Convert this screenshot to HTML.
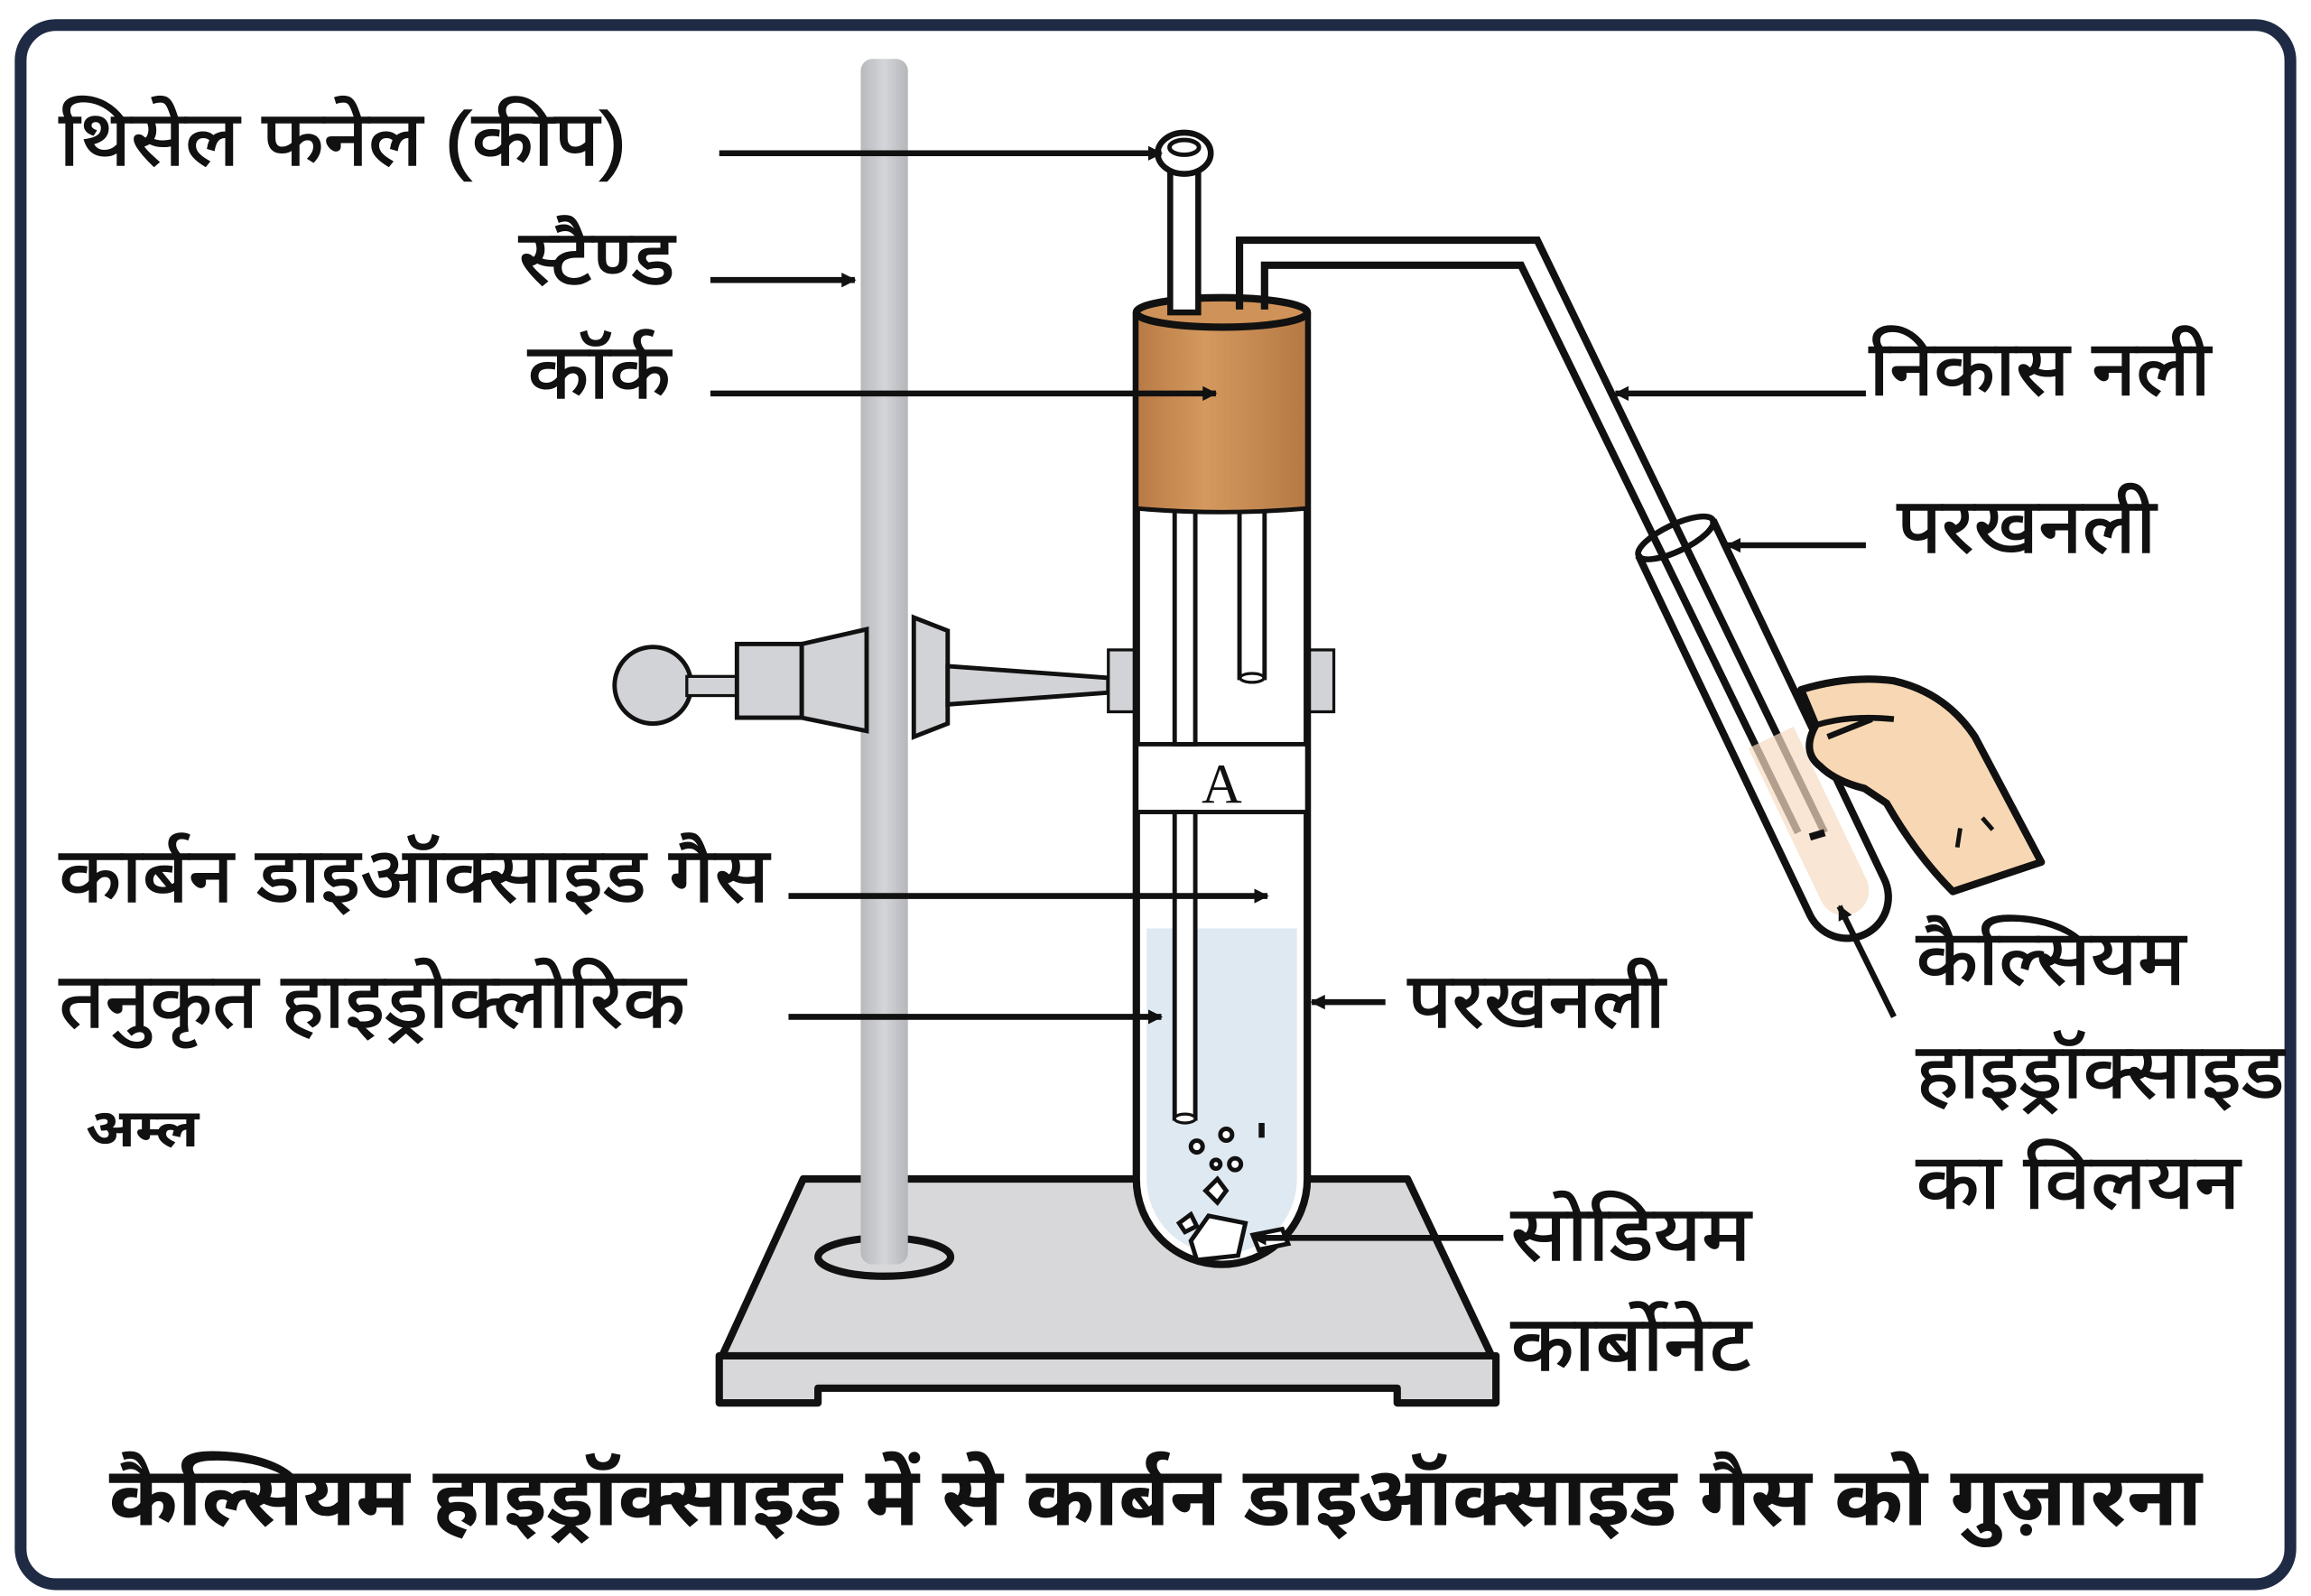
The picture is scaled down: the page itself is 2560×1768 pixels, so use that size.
<!DOCTYPE html>
<html><head><meta charset="utf-8"><style>
html,body{margin:0;padding:0;background:#fff;}
svg{display:block;}
text{font-family:"Liberation Sans","Noto Sans Devanagari","Lohit Devanagari","Mukta",sans-serif;fill:#111;}
.l{stroke:#111;stroke-width:0.9;}
</style></head><body>
<svg width="2560" height="1768" viewBox="0 0 1568 1083" preserveAspectRatio="none" xmlns="http://www.w3.org/2000/svg">
<defs>
<linearGradient id="rod" x1="0" x2="1"><stop offset="0" stop-color="#b8b9bd"/><stop offset="0.5" stop-color="#d4d5d8"/><stop offset="1" stop-color="#b5b6ba"/></linearGradient>
<linearGradient id="cork" x1="0" x2="1"><stop offset="0" stop-color="#b87a45"/><stop offset="0.4" stop-color="#d4995e"/><stop offset="1" stop-color="#b47843"/></linearGradient>
<marker id="ah" markerWidth="10" markerHeight="10" refX="9" refY="5" orient="auto" markerUnits="userSpaceOnUse"><path d="M0,0 L10,5 L0,10 Z" fill="#111"/></marker>
</defs>
<rect x="0" y="0" width="1568" height="1083" fill="#fff"/>
<rect x="14" y="17" width="1540" height="1058" rx="24" fill="#fff" stroke="#1f2a44" stroke-width="8"/>

<path d="M488,920 L488,952 L555,952 L555,942 L948,942 L948,952 L1015,952 L1015,920 Z" fill="#d8d8da" stroke="#111" stroke-width="5" stroke-linejoin="round"/>
<path d="M545,800 L955,800 L1012,920 L490,920 Z" fill="#d8d8da" stroke="#111" stroke-width="5" stroke-linejoin="round"/>
<ellipse cx="600" cy="853" rx="45" ry="13" fill="none" stroke="#111" stroke-width="5"/>
<rect x="584" y="40" width="32" height="818" rx="8" fill="url(#rod)"/>

<circle cx="443" cy="465" r="26" fill="#d2d3d6" stroke="#111" stroke-width="3"/>
<rect x="466" y="459" width="36" height="13" fill="#d2d3d6" stroke="#111" stroke-width="2"/>
<rect x="500" y="437" width="44" height="50" fill="#d2d3d6" stroke="#111" stroke-width="3"/>
<path d="M544,437 L588,427 L588,496 L544,487 Z" fill="#d2d3d6" stroke="#111" stroke-width="3"/>
<path d="M620,419 L643,428 L643,491 L620,500 Z" fill="#d2d3d6" stroke="#111" stroke-width="3"/>
<path d="M643,452 L752,460 L752,470 L643,478 Z" fill="#d2d3d6" stroke="#111" stroke-width="3"/>
<rect x="752" y="441" width="18" height="42" fill="#d2d3d6" stroke="#111" stroke-width="2"/>
<rect x="888" y="441" width="17" height="42" fill="#d2d3d6" stroke="#111" stroke-width="2"/>

<path d="M771,212 L771,800 A58,58 0 0 0 887,800 L887,212" fill="#fff" stroke="#111" stroke-width="5"/>
<path d="M778,630 L880,630 L880,800 A51,51 0 0 1 778,800 Z" fill="#dfe9f1"/>
<rect x="771" y="505" width="116" height="46" fill="#fff" stroke="#111" stroke-width="3"/>
<text x="829" y="545" text-anchor="middle" font-size="38" style="font-family:'Liberation Serif',serif">A</text>
<rect x="797" y="345" width="14" height="160" fill="#fff" stroke="#111" stroke-width="3"/>
<rect x="797" y="551" width="14" height="208" fill="#fff" stroke="#111" stroke-width="3"/>
<ellipse cx="804" cy="759" rx="7" ry="3" fill="#fff" stroke="#111" stroke-width="2"/>
<rect x="841" y="345" width="17" height="115" fill="#fff" stroke="#111" stroke-width="3"/>
<ellipse cx="849.5" cy="460" rx="8" ry="3" fill="#fff" stroke="#111" stroke-width="2"/>
<path d="M771,212 L887,212 L887,345 Q829,350 771,345 Z" fill="url(#cork)" stroke="#111" stroke-width="3"/>
<ellipse cx="829" cy="212" rx="58" ry="10" fill="#cf9258" stroke="#111" stroke-width="5"/>
<g fill="#fff" stroke="#111" stroke-width="3">
<path d="M808,842 L820,825 L845,830 L840,852 L812,855 Z"/>
<path d="M800,830 l8,-6 l4,8 l-8,4 Z"/>
<path d="M818,808 l8,-8 l6,8 l-6,8 Z"/>
<circle cx="812" cy="778" r="4"/><circle cx="832" cy="770" r="4"/><circle cx="838" cy="790" r="4"/><circle cx="825" cy="790" r="3"/>
<path d="M850,838 l20,-4 l4,10 l-20,4 Z"/>
</g>
<line x1="856" y1="762" x2="856" y2="772" stroke="#111" stroke-width="4"/>
<rect x="794" y="112" width="19" height="100" fill="#fff" stroke="#111" stroke-width="4"/>
<ellipse cx="803.5" cy="104" rx="18" ry="14" fill="#fff" stroke="#111" stroke-width="4"/>
<ellipse cx="803.5" cy="100" rx="10" ry="5" fill="#fff" stroke="#111" stroke-width="3"/>
<path d="M841,210 L841,163 L1043,163 L1238,565" fill="none" stroke="#111" stroke-width="5"/>
<path d="M858,210 L858,180 L1032,180 L1220,565" fill="none" stroke="#111" stroke-width="5"/>
<g transform="translate(1137,365) rotate(-25.5)">
<path d="M-17,150 L17,150 L17,265 A17,17 0 0 1 -17,265 Z" fill="#f6dcc2" opacity="0.7"/>
<path d="M-28,0 L-28,270 A28,28 0 0 0 28,270 L28,0" fill="none" stroke="#111" stroke-width="5"/>
<ellipse cx="0" cy="0" rx="28" ry="9" fill="none" stroke="#111" stroke-width="4"/>
</g>
<path d="M1222,468 Q1255,458 1285,462 Q1320,470 1340,500 L1385,585 L1325,605 Q1300,580 1280,545 L1265,535 Q1245,530 1235,520 Q1222,510 1232,492 Z" fill="#f8d8b4" stroke="#111" stroke-width="5" stroke-linejoin="round"/>
<path d="M1232,492 Q1255,485 1285,488 M1240,500 l30,-12" fill="none" stroke="#111" stroke-width="4"/>
<line x1="1330" y1="562" x2="1328" y2="575" stroke="#111" stroke-width="3"/>
<line x1="1345" y1="555" x2="1352" y2="563" stroke="#111" stroke-width="3"/>
<line x1="1238" y1="565" x2="1228" y2="568" stroke="#111" stroke-width="5"/>

<g stroke="#111" stroke-width="4" fill="none">
<line x1="488" y1="104" x2="788" y2="104" marker-end="url(#ah)"/>
<line x1="482" y1="190" x2="580" y2="190" marker-end="url(#ah)"/>
<line x1="482" y1="267" x2="825" y2="267" marker-end="url(#ah)"/>
<line x1="535" y1="608" x2="860" y2="608" marker-end="url(#ah)"/>
<line x1="535" y1="690" x2="788" y2="690" marker-end="url(#ah)"/>
<line x1="940" y1="680" x2="890" y2="680" marker-end="url(#ah)"/>
<line x1="1020" y1="840" x2="850" y2="840" marker-end="url(#ah)"/>
<line x1="1266" y1="267" x2="1096" y2="267" marker-end="url(#ah)"/>
<line x1="1266" y1="370" x2="1172" y2="370" marker-end="url(#ah)"/>
<line x1="1285" y1="690" x2="1248" y2="615" marker-end="url(#ah)"/>
</g>

<g font-size="52" class="l">
<text x="40" y="112" textLength="385" lengthAdjust="spacingAndGlyphs">थिसेल फनेल (कीप)</text>
<text x="352" y="193" textLength="106" lengthAdjust="spacingAndGlyphs">स्टैण्ड</text>
<text x="358" y="270" textLength="97" lengthAdjust="spacingAndGlyphs">कॉर्क</text>
<text x="40" y="612" textLength="482" lengthAdjust="spacingAndGlyphs">कार्बन डाइऑक्साइड गैस</text>
<text x="40" y="697" textLength="425" lengthAdjust="spacingAndGlyphs">तनुकृत हाइड्रोक्लोरिक</text>
<text x="955" y="697" textLength="175" lengthAdjust="spacingAndGlyphs">परखनली</text>
<text x="1025" y="855" textLength="163" lengthAdjust="spacingAndGlyphs">सोडियम</text>
<text x="1025" y="930" textLength="163" lengthAdjust="spacingAndGlyphs">कार्बोनेट</text>
<text x="1268" y="268" textLength="232" lengthAdjust="spacingAndGlyphs">निकास नली</text>
<text x="1287" y="375" textLength="176" lengthAdjust="spacingAndGlyphs">परखनली</text>
<text x="1300" y="668" textLength="183" lengthAdjust="spacingAndGlyphs">कैल्सियम</text>
<text x="1300" y="745" textLength="250" lengthAdjust="spacingAndGlyphs">हाइड्रॉक्साइड</text>
<text x="1300" y="820" textLength="220" lengthAdjust="spacingAndGlyphs">का विलयन</text>
</g>
<text x="58" y="778" font-size="36" font-weight="bold" textLength="77" lengthAdjust="spacingAndGlyphs">अम्ल</text>
<text x="784" y="1035" font-size="56" font-weight="bold" text-anchor="middle" textLength="1420" lengthAdjust="spacingAndGlyphs">कैल्सियम हाइड्रॉक्साइड में से कार्बन  डाइऑक्साइड गैस को गुज़ारना</text>
</svg>
</body></html>
